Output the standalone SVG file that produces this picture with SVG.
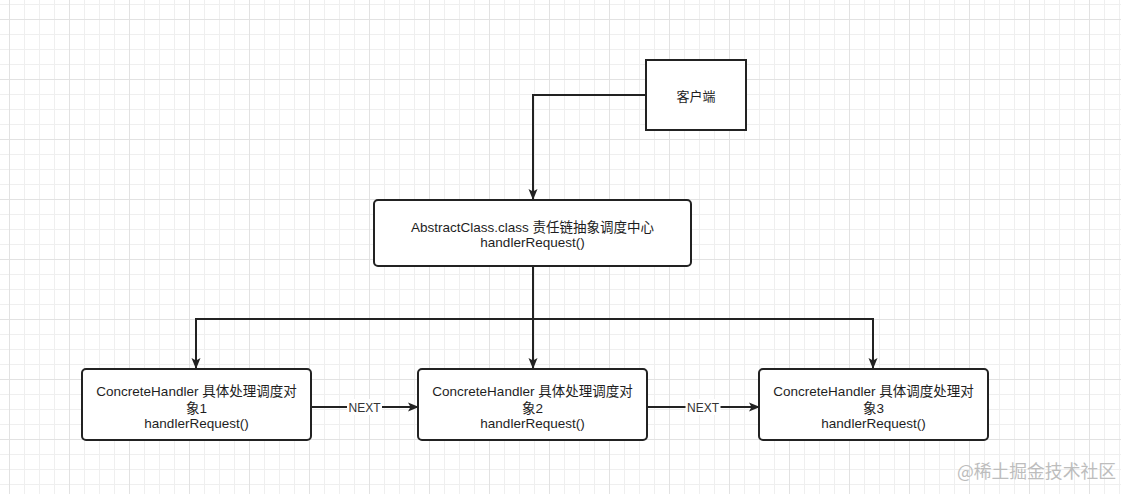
<svg xmlns="http://www.w3.org/2000/svg" width="1121" height="494" viewBox="0 0 1121 494">
  <defs>
    <pattern id="minor" x="9" y="4" width="15" height="15" patternUnits="userSpaceOnUse">
      <path d="M0.5,0 V15 M0,0.5 H15" fill="none" stroke="#efefef" stroke-width="1"/>
    </pattern>
    <pattern id="major" x="9" y="19" width="60" height="60" patternUnits="userSpaceOnUse">
      <path d="M0.5,0 V60 M0,0.5 H60" fill="none" stroke="#e2e2e2" stroke-width="1"/>
    </pattern>
    <marker id="arrow" markerUnits="userSpaceOnUse" markerWidth="12" markerHeight="10" refX="10" refY="4.5" orient="auto" viewBox="0 0 12 9">
      <path d="M0,0 L11,4.5 L0,9 L2.5,4.5 Z" fill="#222"/>
    </marker>
    <style>
      .box { fill: #ffffff; stroke: #222222; stroke-width: 2; }
      .lbl { font-family: "Liberation Sans", Arial, "Noto Sans CJK SC", sans-serif; font-size: 13.5px; fill: #1e1e1e; text-anchor: middle; }
      .edge { fill: none; stroke: #222222; stroke-width: 2; }
      .elbl { font-family: "Liberation Sans", Arial, sans-serif; font-size: 12px; fill: #333333; text-anchor: middle; }
      .wm { font-family: "Noto Sans CJK SC", "Noto Sans", sans-serif; font-size: 17.8px; fill: #bdbdbd; }
    </style>
  </defs>
  <rect x="0" y="0" width="1121" height="494" fill="#ffffff"/>
  <rect x="0" y="0" width="1121" height="494" fill="url(#minor)"/>
  <rect x="0" y="0" width="1121" height="494" fill="url(#major)"/>

  <g id="connectors">
    <path class="edge" d="M646,95 H533 V199" marker-end="url(#arrow)"/>
    <path class="edge" d="M533,266 V368" marker-end="url(#arrow)"/>
    <path class="edge" d="M533,319 H196 V368" marker-end="url(#arrow)"/>
    <path class="edge" d="M533,319 H873 V368" marker-end="url(#arrow)"/>
    <path class="edge" d="M311,407 H418" marker-end="url(#arrow)"/>
    <rect x="347" y="399" width="35" height="16" fill="#ffffff"/>
    <text class="elbl" x="364.5" y="411.5">NEXT</text>
    <path class="edge" d="M647,407 H759" marker-end="url(#arrow)"/>
    <rect x="685.5" y="399" width="35" height="16" fill="#ffffff"/>
    <text class="elbl" x="703" y="411.5">NEXT</text>
  </g>

  <g id="client">
    <rect class="box" x="646" y="60" width="100" height="70"/>
    <text class="lbl" x="696" y="100.5" style="font-size:13px">客户端</text>
  </g>

  <g id="abstract">
    <rect class="box" x="374" y="200" width="317" height="66" rx="4"/>
    <text class="lbl" x="532.5" y="231.5">AbstractClass.class 责任链抽象调度中心</text>
    <text class="lbl" x="532.5" y="247">handlerRequest()</text>
  </g>

  <g id="handler1">
    <rect class="box" x="82" y="369" width="229" height="71" rx="4"/>
    <text class="lbl" x="196.5" y="396">ConcreteHandler 具体处理调度对</text>
    <text class="lbl" x="196.5" y="412.5">象1</text>
    <text class="lbl" x="196.5" y="427.5">handlerRequest()</text>
  </g>

  <g id="handler2">
    <rect class="box" x="418" y="369" width="229" height="71" rx="4"/>
    <text class="lbl" x="532.5" y="396">ConcreteHandler 具体处理调度对</text>
    <text class="lbl" x="532.5" y="412.5">象2</text>
    <text class="lbl" x="532.5" y="427.5">handlerRequest()</text>
  </g>

  <g id="handler3">
    <rect class="box" x="759" y="369" width="229" height="71" rx="4"/>
    <text class="lbl" x="873.5" y="396">ConcreteHandler 具体调度处理对</text>
    <text class="lbl" x="873.5" y="412.5">象3</text>
    <text class="lbl" x="873.5" y="427.5">handlerRequest()</text>
  </g>

  <text class="wm" x="1116" y="478" text-anchor="end">@稀土掘金技术社区</text>
</svg>
